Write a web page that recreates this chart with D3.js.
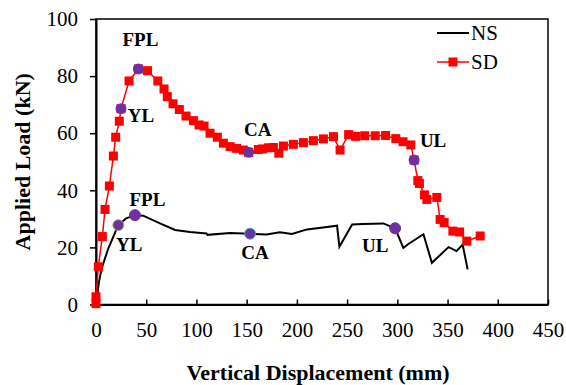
<!DOCTYPE html>
<html>
<head>
<meta charset="utf-8">
<script src="https://cdn.jsdelivr.net/npm/d3@7"></script>
<style>
  body { margin: 0; background: #fff; }
  svg { display: block; font-family: "Liberation Serif", "Times New Roman", serif; }
</style>
</head>
<body>
<svg id="chart" width="566" height="385"></svg>
<script>
// load-displacement curves, values
var nsData = [
  [0, 0], [3, 8], [5.7, 12.7], [12.3, 19.7], [22.2, 27.8], [30, 30.2], [38.8, 31.3],
  [47, 31.1], [63.7, 28.4], [78.7, 26.1], [93.6, 25.4], [110, 24.9], [111, 24.4],
  [133.5, 25], [153.4, 24.8], [170, 24.5], [183, 25.3], [195, 24.7], [210, 26.3],
  [226, 27], [240, 27.6], [242.3, 20.2], [255, 28], [266, 28.2], [286, 28.4],
  [297.8, 26.7], [306, 19.8], [311, 21.2], [326, 24.6], [334.4, 14.6], [351, 20.1],
  [359, 18.7], [365, 21], [370, 12.3]
]
var sdData = [
  [0, 0.3], [0, 2.7], [2.3, 13.2], [6.3, 23.8], [9, 33.3], [13.3, 41.5], [17.3, 52],
  [19.6, 58.6], [23.2, 64.2], [24.9, 68.6], [32.9, 78.3], [42.2, 82.5], [51.3, 81.9],
  [61.5, 78.3], [67.7, 75.5], [71, 72.8], [76.7, 70.3], [83, 68.3], [89.6, 66],
  [97, 64.4], [102.6, 62.9], [107.6, 62.5], [113.5, 60], [120.8, 58.6], [126.8, 56.5],
  [133.5, 55.3], [140, 54.7], [146.7, 54.1], [152, 53.3], [161.7, 54.3], [166, 54.5],
  [171.6, 54.9], [176.6, 55], [182, 53], [186.6, 55.5], [196.5, 56.1], [206.5, 56.7],
  [216.4, 57.4], [226.4, 58], [236.4, 58.8], [243, 54.1], [251.5, 59.5], [258.5, 58.9],
  [267.5, 59.1], [278, 59.1], [288.3, 59.2], [298.5, 58.1], [305.7, 57], [313.4, 55.9],
  [316.7, 50.6], [320.4, 43.4], [322, 42.4], [327, 38.4], [329.4, 36.8], [339.3, 37.5],
  [342.6, 29.8], [346.6, 28.7], [355.3, 25.7], [362, 25.4], [369.2, 22.2], [382.5, 24]
]
// marked stages: YL, FPL, CA, UL
var stageNames = ['YL', 'FPL', 'CA', 'UL']
var nsStages = [[22.2, 27.8], [38.8, 31.3], [153.4, 24.8], [297.8, 26.7]]
var sdStages = [[24.9, 68.6], [42.2, 82.5], [152, 53.3], [316.7, 50.6]]
var xTicks = [0, 50, 100, 150, 200, 250, 300, 350, 400, 450]
var yTicks = [0, 20, 40, 60, 80, 100]

var svg = d3.select('#chart')
var plotLeft = 96, plotRight = 548, plotTop = 19, plotBottom = 304.5

var x = d3.scaleLinear().domain([0, 450]).range([plotLeft, plotRight])
var y = d3.scaleLinear().domain([0, 100]).range([plotBottom, plotTop])

// frame
svg.append('rect')
  .attr('x', plotLeft).attr('y', plotTop)
  .attr('width', plotRight - plotLeft).attr('height', plotBottom - plotTop)
  .attr('fill', 'none').attr('stroke', '#000').attr('stroke-width', 1.5)

var xAxis = svg.append('g')
  .attr('transform', 'translate(0,' + plotBottom + ')')
  .call(d3.axisBottom(x).tickValues(xTicks).tickSizeInner(-5).tickSizeOuter(0).tickPadding(18))
var yAxis = svg.append('g')
  .attr('transform', 'translate(' + plotLeft + ',0)')
  .call(d3.axisLeft(y).tickValues(yTicks).tickSizeInner(6).tickSizeOuter(0).tickPadding(12))

;[xAxis, yAxis].forEach(function (a) {
  a.select('.domain').attr('stroke-width', 2)
  a.selectAll('.tick line').attr('stroke-width', 1.5)
  a.selectAll('.tick text')
    .style('font-family', '"Liberation Serif", serif')
    .style('font-size', '21px')
    .attr('fill', '#000')
})
xAxis.selectAll('.tick').filter(function (d) { return d === 0 }).select('line').remove()

svg.append('text')
  .attr('x', (plotLeft + plotRight) / 2 - 4).attr('y', 380)
  .attr('text-anchor', 'middle')
  .style('font-size', '22px').style('font-weight', 'bold')
  .text('Vertical Displacement (mm)')

svg.append('text')
  .attr('transform', 'translate(30,' + ((plotTop + plotBottom) / 2) + ') rotate(-90)')
  .attr('text-anchor', 'middle')
  .style('font-size', '22px').style('font-weight', 'bold')
  .text('Applied Load (kN)')

var line = d3.line().x(function (d) { return x(d[0]) }).y(function (d) { return y(d[1]) })

svg.append('path').datum(nsData)
  .attr('d', line).attr('fill', 'none')
  .attr('stroke', '#000').attr('stroke-width', 2)

svg.append('path').datum(sdData)
  .attr('d', line).attr('fill', 'none')
  .attr('stroke', '#ff0000').attr('stroke-width', 1.5)

svg.selectAll('.sdpt').data(sdData).enter()
  .append('rect')
  .attr('class', 'sdpt')
  .attr('x', function (d) { return x(d[0]) - 4.5 })
  .attr('y', function (d) { return y(d[1]) - 4.5 })
  .attr('width', 9).attr('height', 9)
  .attr('fill', '#ff0000')

// stage dots
var nsOutline = ['#9bbb59', '#7030a0', '#4bacc6', '#7030a0']
svg.selectAll('.nsdot').data(nsStages).enter()
  .append('circle')
  .attr('cx', function (d) { return x(d[0]) })
  .attr('cy', function (d) { return y(d[1]) })
  .attr('r', 5.5)
  .attr('fill', '#7030a0')
  .attr('stroke', function (d, i) { return nsOutline[i] })
  .attr('stroke-width', 1)
svg.selectAll('.sddot').data(sdStages).enter()
  .append('circle')
  .attr('cx', function (d) { return x(d[0]) })
  .attr('cy', function (d) { return y(d[1]) })
  .attr('r', 5.5)
  .attr('fill', '#7030a0')

// stage labels, offsets from the dot
var sdLabelOff = [[20, 7], [2, -30], [9, -23], [19, -20]]
var nsLabelOff = [[11, 19], [12.5, -16], [5, 19], [-20, 17]]
function addLabels (pts, offs) {
  pts.forEach(function (d, i) {
    svg.append('text')
      .attr('x', x(d[0]) + offs[i][0])
      .attr('y', y(d[1]) + offs[i][1])
      .attr('text-anchor', 'middle')
      .attr('dy', '0.35em')
      .style('font-size', '19px').style('font-weight', 'bold')
      .text(stageNames[i])
  })
}
addLabels(sdStages, sdLabelOff)
addLabels(nsStages, nsLabelOff)

// legend
var leg = svg.append('g')
leg.append('line').attr('x1', 437).attr('x2', 469).attr('y1', 33).attr('y2', 33)
  .attr('stroke', '#000').attr('stroke-width', 2)
leg.append('text').attr('x', 471).attr('y', 40).style('font-size', '21px').text('NS')
leg.append('line').attr('x1', 437).attr('x2', 469).attr('y1', 62).attr('y2', 62)
  .attr('stroke', '#ff0000').attr('stroke-width', 1.5)
leg.append('rect').attr('x', 448.5).attr('y', 57.5).attr('width', 9).attr('height', 9)
  .attr('fill', '#ff0000')
leg.append('text').attr('x', 471).attr('y', 69).style('font-size', '21px').text('SD')
</script>
</body>
</html>
